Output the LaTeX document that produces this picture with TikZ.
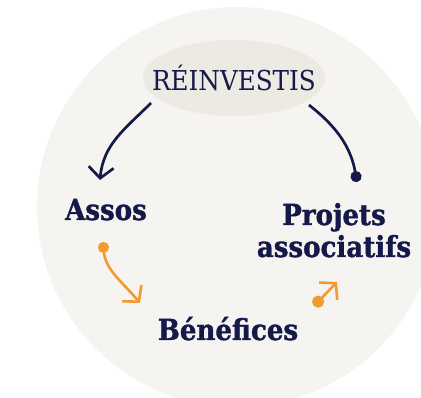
\documentclass[tikz,border=0pt]{standalone}
\usepackage{fontspec}
\setmainfont{DejaVu Serif Condensed}[BoldFeatures={FakeBold=1.2}]
\usepackage{tikz}
\usetikzlibrary{arrows.meta,shapes}

\definecolor{navy}{HTML}{15194A}
\definecolor{ochre}{HTML}{F39A2E}
\definecolor{disc}{HTML}{F5F4F1}
\definecolor{pill}{HTML}{ECEAE3}

\begin{document}
\begin{tikzpicture}[x=1pt,y=1pt]
      \tikzstyle{label} = [text=navy, font=\fontsize{29}{32}\selectfont\bfseries, inner sep=0pt]
      \tikzstyle{dark} = [navy, line width=2.7pt]
      \tikzstyle{warm} = [ochre, line width=2.6pt]
      \tikzstyle{barb} = [-{Straight Barb[length=11pt,width=25pt]}]
      \useasboundingbox (0,0) rectangle (421,397);
      \clip (0,0) rectangle (421,397);
      % background disc and pill
      \fill[disc] (237,190) circle (200);
      \fill[pill] (234,319) ellipse [x radius=91, y radius=38];
      % nodes
      \node (top) [text=navy, font=\fontsize{27.4}{30}\selectfont, inner sep=0pt] at (234,319) {RÉINVESTIS};
      \node (assos) [label, anchor=base] at (106,177) {Assos};
      \node (projets) [label, align=center, anchor=base] at (334,140) {Projets\\associatifs};
      \node (benef) [label, anchor=base] at (228,57) {Bénéfices};
      % end points
      \coordinate (t1) at (151,294);
      \coordinate (a1) at (100,217);
      \coordinate (t2) at (309,292);
      \coordinate (p1) at (357,215);
      \coordinate (a2) at (103,155);
      \coordinate (b1) at (140,94);
      \coordinate (b2) at (314,91);
      \coordinate (p2) at (337,115);
      % connectors
      \draw [dark,barb] (t1) to[out=225,in=85] (a1);
      \draw [dark,-{Circle[length=11pt]}] (t2) to[out=-38,in=100] (p1);
      \draw [warm,{Circle[length=11pt]}-{Straight Barb[length=11pt,width=25pt]}] (a2) to[out=-85,in=130] (b1);
      \draw [warm,{Circle[length=12pt]}-{Straight Barb[length=11pt,width=25pt]}] (b2) -- (p2);
    \end{tikzpicture}
\end{document}
